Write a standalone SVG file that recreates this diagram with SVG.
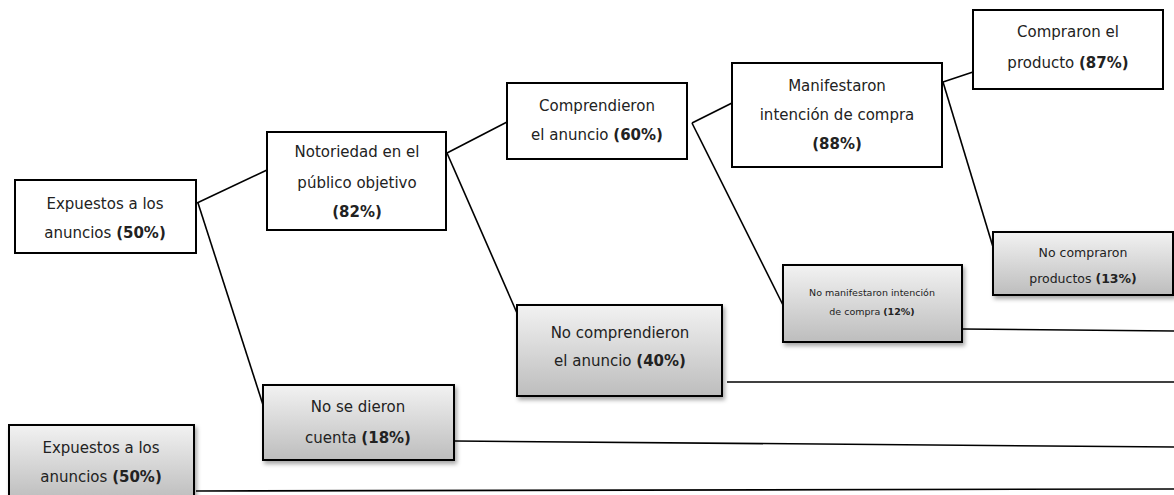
<svg xmlns="http://www.w3.org/2000/svg" width="1174" height="495" viewBox="0 0 1174 495">
<defs>
<linearGradient id="g" x1="0" y1="0" x2="0" y2="1">
<stop offset="0" stop-color="#f2f2f2"/>
<stop offset="1" stop-color="#bdbdbd"/>
</linearGradient>
<filter id="sh" x="-10%" y="-10%" width="125%" height="135%">
<feDropShadow dx="2" dy="3" stdDeviation="2" flood-color="#000" flood-opacity="0.35"/>
</filter>
</defs>
<style>
.w{fill:#fff;stroke:#000;stroke-width:2}
.gb{fill:url(#g);stroke:#000;stroke-width:2;filter:url(#sh)}
text{font-family:"DejaVu Sans","Liberation Sans",sans-serif;font-size:15px;fill:#222;text-anchor:middle}
.b{font-weight:bold}
.s{font-size:12.5px}
.t{font-size:9.5px}
.c line{stroke:#000;stroke-width:1.6}
</style>
<rect width="1174" height="495" fill="#fff"/>
<g class="c" id="connectors">
<line x1="197" y1="203" x2="267" y2="170"/>
<line x1="198" y1="203" x2="264" y2="408"/>
<line x1="447" y1="153" x2="507" y2="122"/>
<line x1="447" y1="153" x2="517" y2="313"/>
<line x1="692" y1="123" x2="732" y2="103"/>
<line x1="692" y1="123" x2="783" y2="305"/>
<line x1="943" y1="82" x2="973" y2="72"/>
<line x1="943" y1="82" x2="993" y2="247"/>
<line x1="962" y1="329" x2="1174" y2="331"/>
<line x1="727" y1="382" x2="1174" y2="382"/>
<line x1="455" y1="441" x2="1174" y2="447"/>
<line x1="196" y1="491" x2="1174" y2="489"/>
</g>
<g id="n1">
<rect class="w" x="15" y="180" width="181" height="73"/>
<text x="105" y="209">Expuestos a los</text>
<text x="105" y="238">anuncios <tspan class="b">(50%)</tspan></text>
</g>
<g id="n2">
<rect class="w" x="267" y="132" width="179" height="98"/>
<text x="357" y="157">Notoriedad en el</text>
<text x="357" y="188">público objetivo</text>
<text x="357" y="217" class="b">(82%)</text>
</g>
<g id="n3">
<rect class="w" x="507" y="83" width="180" height="76"/>
<text x="597" y="111">Comprendieron</text>
<text x="597" y="140">el anuncio <tspan class="b">(60%)</tspan></text>
</g>
<g id="n4">
<rect class="w" x="732" y="63" width="210" height="104"/>
<text x="837" y="91">Manifestaron</text>
<text x="837" y="120">intención de compra</text>
<text x="837" y="149" class="b">(88%)</text>
</g>
<g id="n5">
<rect class="w" x="973" y="10" width="190" height="79"/>
<text x="1068" y="37">Compraron el</text>
<text x="1068" y="68">producto <tspan class="b">(87%)</tspan></text>
</g>
<g id="n6">
<rect class="gb" x="993" y="232" width="180" height="63"/>
<text class="s" x="1083" y="257">No compraron</text>
<text class="s" x="1083" y="283">productos <tspan class="b">(13%)</tspan></text>
</g>
<g id="n7">
<rect class="gb" x="783" y="265" width="179" height="77"/>
<text class="t" x="872" y="296">No manifestaron intención</text>
<text class="t" x="872" y="315">de compra <tspan class="b">(12%)</tspan></text>
</g>
<g id="n8">
<rect class="gb" x="517" y="305" width="205" height="91"/>
<text x="620" y="338">No comprendieron</text>
<text x="620" y="366">el anuncio <tspan class="b">(40%)</tspan></text>
</g>
<g id="n9">
<rect class="gb" x="263" y="385" width="191" height="75"/>
<text x="358" y="412">No se dieron</text>
<text x="358" y="443">cuenta <tspan class="b">(18%)</tspan></text>
</g>
<g id="n10">
<rect class="gb" x="9" y="425" width="185" height="75"/>
<text x="101" y="453">Expuestos a los</text>
<text x="101" y="482">anuncios <tspan class="b">(50%)</tspan></text>
</g>
</svg>
